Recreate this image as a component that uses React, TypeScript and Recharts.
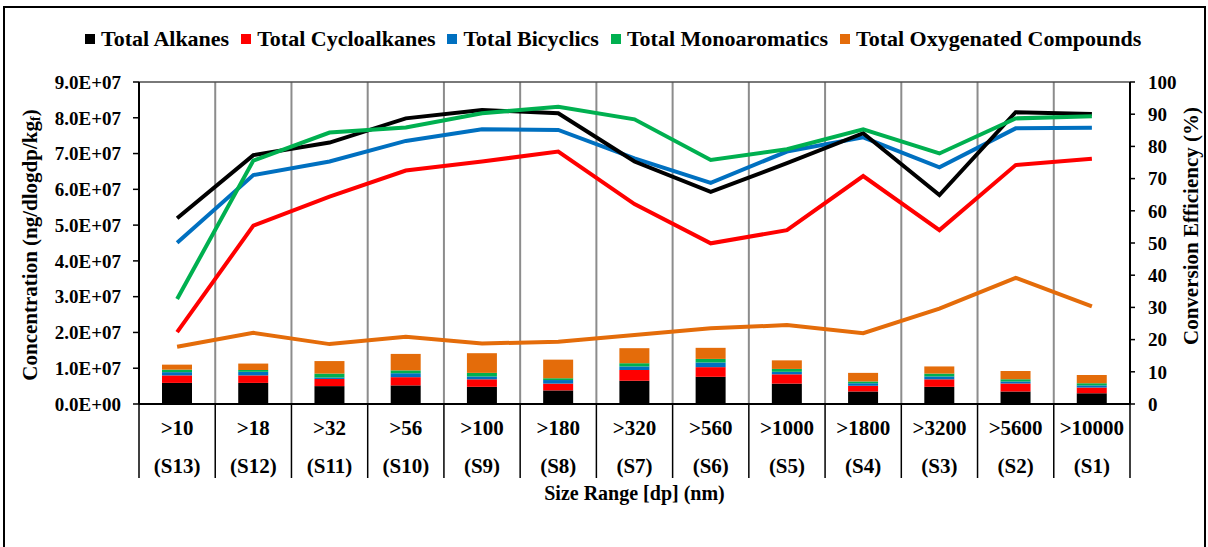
import React from 'react';
import { ComposedChart, Bar, Line, XAxis, YAxis, CartesianGrid, ReferenceLine } from 'recharts';

const categories = ['>10', '>18', '>32', '>56', '>100', '>180', '>320', '>560', '>1000', '>1800', '>3200', '>5600', '>10000'];
const stages = ['(S13)', '(S12)', '(S11)', '(S10)', '(S9)', '(S8)', '(S7)', '(S6)', '(S5)', '(S4)', '(S3)', '(S2)', '(S1)'];

// concentration, ng/dlogdp/kgf (bars, left axis)
const alkanesConc = [5.9e6, 5.9e6, 5.0e6, 5.2e6, 4.8e6, 3.8e6, 6.5e6, 7.6e6, 5.7e6, 3.5e6, 4.8e6, 3.5e6, 3.0e6];
const cycloConc = [2.1e6, 2.1e6, 2.0e6, 2.3e6, 2.1e6, 1.9e6, 3.0e6, 2.7e6, 2.6e6, 1.6e6, 2.1e6, 2.2e6, 1.6e6];
const bicyclicConc = [0.9e6, 1.0e6, 0.4e6, 1.1e6, 0.8e6, 1.0e6, 1.0e6, 1.3e6, 0.7e6, 0.7e6, 0.8e6, 0.6e6, 0.6e6];
const monoConc = [0.7e6, 0.5e6, 1.1e6, 0.8e6, 1.0e6, 0.5e6, 0.9e6, 1.0e6, 0.8e6, 0.5e6, 0.8e6, 0.6e6, 0.6e6];
const oxyConc = [1.4e6, 1.8e6, 3.5e6, 4.6e6, 5.5e6, 5.2e6, 4.2e6, 3.1e6, 2.4e6, 2.4e6, 2.0e6, 2.3e6, 2.3e6];

// conversion efficiency, % (lines, right axis)
const alkanesEff = [57.7, 77.3, 81.2, 88.7, 91.3, 90.3, 75.3, 65.9, 74.8, 84.1, 64.9, 90.6, 90.1];
const cycloEff = [22.3, 55.4, 64.4, 72.5, 75.3, 78.4, 62.1, 49.9, 54.0, 70.8, 54.0, 74.2, 76.2];
const bicyclicEff = [50.1, 71.1, 75.3, 81.7, 85.3, 85.1, 76.3, 68.7, 78.4, 82.8, 73.5, 85.6, 85.8];
const monoEff = [32.6, 75.6, 84.3, 85.9, 90.3, 92.3, 88.4, 75.8, 79.1, 85.3, 77.8, 88.7, 89.4];
const oxyEff = [17.8, 22.1, 18.6, 20.9, 18.8, 19.3, 21.4, 23.5, 24.5, 22.0, 29.6, 39.2, 30.3];

const concTicks = [0, 1e7, 2e7, 3e7, 4e7, 5e7, 6e7, 7e7, 8e7, 9e7];
const effTicks = [0, 10, 20, 30, 40, 50, 60, 70, 80, 90, 100];

const series = [
  { key: 'alk', name: 'Total Alkanes', color: '#000000' },
  { key: 'cyc', name: 'Total Cycloalkanes', color: '#FF0000' },
  { key: 'bic', name: 'Total Bicyclics', color: '#0070C0' },
  { key: 'mono', name: 'Total Monoaromatics', color: '#00B050' },
  { key: 'oxy', name: 'Total Oxygenated Compounds', color: '#E46C0A' },
];

const data = categories.map((cat, i) => ({
  cat,
  stage: stages[i],
  alkC: alkanesConc[i], cycC: cycloConc[i], bicC: bicyclicConc[i], monoC: monoConc[i], oxyC: oxyConc[i],
  alkE: alkanesEff[i], cycE: cycloEff[i], bicE: bicyclicEff[i], monoE: monoEff[i], oxyE: oxyEff[i],
}));

const W = 1208;
const H = 547;
const LEFT_W = 139;
const RIGHT_W = 78;
const BAND = (W - LEFT_W - RIGHT_W) / categories.length;
const FONT = '"Liberation Serif", "Times New Roman", serif';

const fmtConc = (v: number) => (v === 0 ? '0.0E+00' : `${(v / 1e7).toFixed(1)}E+07`);

function CatTick(props: any) {
  const { x, y, payload, index } = props;
  const last = index === categories.length - 1;
  return (
    <g>
      <line x1={x - BAND / 2} y1={y} x2={x - BAND / 2} y2={y + 74} stroke="#000" strokeWidth={1.5} />
      {last && <line x1={x + BAND / 2} y1={y} x2={x + BAND / 2} y2={y + 74} stroke="#000" strokeWidth={1.5} />}
      <text x={x} y={y + 31} textAnchor="middle" fontFamily={FONT} fontWeight="bold" fontSize={21} fill="#000">{payload.value}</text>
      <text x={x} y={y + 69} textAnchor="middle" fontFamily={FONT} fontWeight="bold" fontSize={21} fill="#000">{stages[index]}</text>
    </g>
  );
}

export default function App() {
  const tickStyle = { fill: '#000', fontSize: 19, fontWeight: 'bold' as const, fontFamily: FONT };
  return (
    <div style={{ position: 'fixed', left: 0, top: 0, width: W, height: H, background: '#fff', overflow: 'hidden' }}>
      <div style={{ position: 'absolute', left: 3, top: 6, width: 1199, height: 600, border: '2px solid #000' }} />
      <div style={{ position: 'absolute', left: 85, top: 26, display: 'flex', alignItems: 'center', fontFamily: FONT, fontWeight: 'bold', fontSize: 22, whiteSpace: 'nowrap' }}>
        {series.map((s) => (
          <div key={s.key} style={{ display: 'flex', alignItems: 'center', marginRight: 12 }}>
            <span style={{ display: 'inline-block', width: 10, height: 10, background: s.color, marginRight: 6 }} />
            <span>{s.name}</span>
          </div>
        ))}
      </div>
      <ComposedChart width={W} height={H} data={data} margin={{ top: 82, right: 0, bottom: 69, left: 0 }} style={{ position: 'absolute', left: 0, top: 0 }}>
        <CartesianGrid horizontal={false} stroke="#8c8c8c" strokeWidth={2}
          verticalCoordinatesGenerator={({ offset }: any) => categories.slice(1).map((_, i) => offset.left + ((i + 1) * offset.width) / categories.length)} />
        <XAxis dataKey="cat" interval={0} height={74} tickLine={false} tickSize={0} tickMargin={0} tick={<CatTick />}
          axisLine={{ stroke: '#000', strokeWidth: 2 }} />
        <YAxis yAxisId="left" domain={[0, 9e7]} ticks={concTicks} tickFormatter={fmtConc} width={LEFT_W} tickSize={6} tickMargin={12}
          tick={tickStyle} axisLine={{ stroke: '#000', strokeWidth: 2 }} tickLine={{ stroke: '#000', strokeWidth: 1.5 }} interval={0} />
        <YAxis yAxisId="right" orientation="right" domain={[0, 100]} ticks={effTicks} width={RIGHT_W} tickSize={5} tickMargin={13}
          tick={tickStyle} axisLine={{ stroke: '#000', strokeWidth: 2 }} tickLine={{ stroke: '#000', strokeWidth: 1.5 }} interval={0} />
        <ReferenceLine yAxisId="left" y={9e7} stroke="#4d4d4d" strokeWidth={1.5} />
        <Bar yAxisId="left" dataKey="alkC" stackId="c" fill="#000000" barSize={30} isAnimationActive={false} />
        <Bar yAxisId="left" dataKey="cycC" stackId="c" fill="#FF0000" barSize={30} isAnimationActive={false} />
        <Bar yAxisId="left" dataKey="bicC" stackId="c" fill="#0070C0" barSize={30} isAnimationActive={false} />
        <Bar yAxisId="left" dataKey="monoC" stackId="c" fill="#00B050" barSize={30} isAnimationActive={false} />
        <Bar yAxisId="left" dataKey="oxyC" stackId="c" fill="#E46C0A" barSize={30} isAnimationActive={false} />
        <Line yAxisId="right" dataKey="oxyE" stroke="#E46C0A" strokeWidth={4} dot={false} type="linear" isAnimationActive={false} />
        <Line yAxisId="right" dataKey="cycE" stroke="#FF0000" strokeWidth={4} dot={false} type="linear" isAnimationActive={false} />
        <Line yAxisId="right" dataKey="bicE" stroke="#0070C0" strokeWidth={4} dot={false} type="linear" isAnimationActive={false} />
        <Line yAxisId="right" dataKey="alkE" stroke="#000000" strokeWidth={4} dot={false} type="linear" isAnimationActive={false} />
        <Line yAxisId="right" dataKey="monoE" stroke="#00B050" strokeWidth={4} dot={false} type="linear" isAnimationActive={false} />
      </ComposedChart>
      <svg width={W} height={H} style={{ position: 'absolute', left: 0, top: 0, pointerEvents: 'none' }}>
        <text transform="translate(30,245) rotate(-90)" textAnchor="middle" dominantBaseline="central" fontFamily={FONT} fontWeight="bold" fontSize={21} fill="#000">
          Concentration (ng/dlogdp/kg<tspan fontSize={14} dy={5}>f</tspan><tspan dy={-5}>)</tspan>
        </text>
        <text transform="translate(1191,226) rotate(-90)" textAnchor="middle" dominantBaseline="central" fontFamily={FONT} fontWeight="bold" fontSize={21} fill="#000">
          Conversion Efficiency (%)
        </text>
        <text x={LEFT_W + (W - LEFT_W - RIGHT_W) / 2} y={500} textAnchor="middle" fontFamily={FONT} fontWeight="bold" fontSize={20} fill="#000">
          Size Range [dp] (nm)
        </text>
      </svg>
    </div>
  );
}
